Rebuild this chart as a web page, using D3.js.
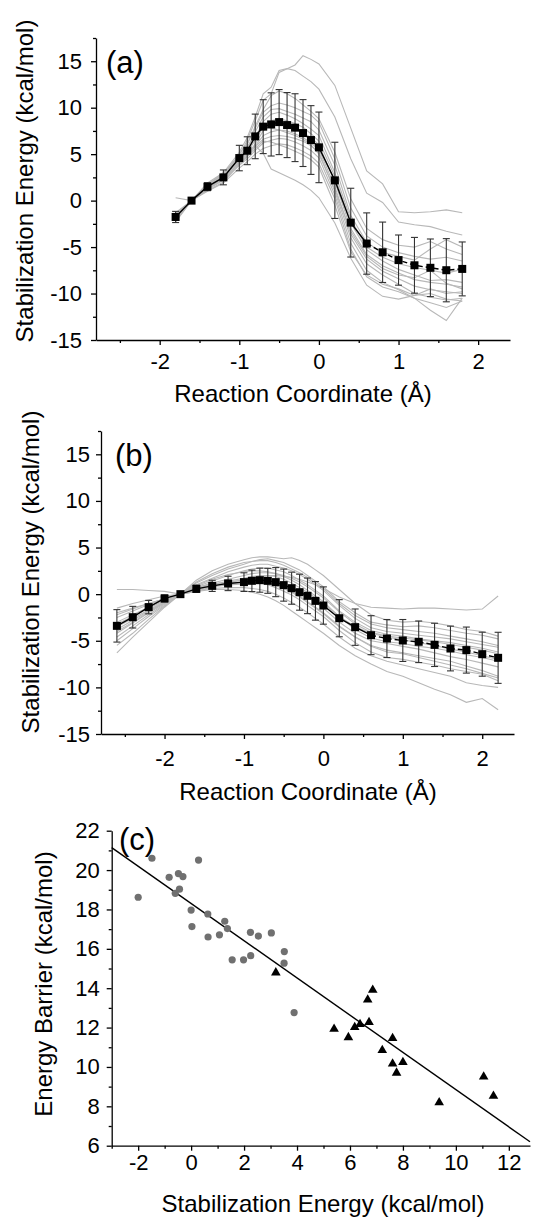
<!DOCTYPE html>
<html><head><meta charset="utf-8">
<script src="https://cdn.jsdelivr.net/npm/d3@7"></script>
<style>body{margin:0;background:#fff}svg text{font-family:"Liberation Sans",Arial,sans-serif;fill:#000}</style>
</head><body><svg id="c" width="536" height="1220"></svg>
<script>
// ---------- Panel (a) data ----------
const xA = [-1.8,-1.6,-1.4,-1.2,-1.0,-0.9,-0.8,-0.7,-0.6,-0.5,-0.4,-0.3,-0.2,-0.1,0,0.2,0.4,0.6,0.8,1.0,1.2,1.4,1.6,1.8];
const meanA = [-1.76,0,1.5,2.5,4.58,5.37,6.91,7.96,8.2,8.45,8.13,7.85,7.27,6.52,5.73,2.18,-2.37,-4.62,-5.56,-6.4,-6.96,-7.23,-7.49,-7.35];
const errA = [0.6,0,0.43,0.8,1.37,1.5,2.4,2.9,3.4,3.5,3.5,3.65,3.6,3.7,3.8,4.1,3.7,3.3,3.25,2.7,3.0,3.1,3.4,2.9];
const curvesA = [
 [-2.2,0,1.6,2.9,4.9,6.5,8.6,10.8,11.5,13.8,14.2,14.6,15.6,15.2,14.7,12.4,7.8,3.2,1.8,-1.2,-1.3,-1.2,-1.0,-1.3],
 [-1.9,0,1.7,3.0,5.2,6.8,9.0,11.5,12.2,14.0,14.2,14.0,13.4,12.8,12.0,9.0,4.5,0.8,-0.2,-2.3,-2.6,-2.8,-3.3,-3.7],
 [-1.5,0,1.3,2.4,4.5,6.0,8.0,9.8,11.3,11.8,11.5,11.0,10.3,9.6,8.8,5.2,0.2,-3.0,-4.2,-4.8,-5.0,-4.4,-5.2,-5.8],
 [-1.8,0,1.5,2.6,4.6,5.6,7.4,9.0,9.8,9.9,9.6,9.3,8.9,8.5,7.6,3.8,-1.6,-4.5,-5.6,-6.0,-6.4,-5.2,-4.2,-5.0],
 [-2.0,0,1.2,2.2,4.2,5.3,6.8,8.5,9.3,9.5,9.2,8.8,8.3,7.7,7.0,3.0,-2.0,-5.0,-6.1,-6.8,-7.2,-7.5,-7.8,-7.4],
 [-1.6,0,1.8,2.7,4.4,5.2,6.5,7.9,8.6,8.8,8.6,8.3,7.9,7.2,6.4,2.6,-2.4,-5.3,-6.5,-7.4,-8.0,-8.6,-8.5,-8.8],
 [-1.4,0,1.4,2.3,4.0,4.9,6.1,7.5,8.1,8.3,8.0,7.7,7.3,6.8,6.0,2.0,-3.0,-5.8,-7.0,-7.8,-8.5,-8.8,-9.0,-9.3],
 [-2.1,0,1.1,2.0,3.9,4.7,5.9,7.0,7.4,7.6,7.5,7.2,6.8,6.2,5.5,1.5,-3.6,-6.3,-7.6,-8.4,-9.2,-9.6,-9.8,-10.0],
 [-1.7,0,1.6,2.5,4.3,5.0,5.8,6.6,6.9,7.0,6.9,6.7,6.4,5.9,5.2,1.0,-4.0,-6.8,-8.0,-9.0,-10.0,-10.4,-10.7,-10.5],
 [-1.3,0,1.3,2.2,3.8,4.5,5.4,6.2,6.5,6.7,6.6,6.3,5.9,5.4,4.6,0.6,-4.6,-7.5,-8.8,-9.6,-10.5,-11.0,-11.5,-10.8],
 [-2.3,0,1.0,1.9,3.5,4.2,5.0,5.6,5.9,6.1,6.0,5.7,5.3,4.8,4.0,0.2,-5.2,-8.2,-9.3,-9.8,-10.5,-11.8,-12.9,-10.5],
 [0.3,0,1.9,3.0,4.7,5.3,5.9,5.1,3.4,3.0,2.6,2.2,1.7,1.1,0.3,-2.4,-6.2,-9.1,-10.3,-10.6,-10.2,-9.5,-10.0,-9.8],
 [-1.6,0,1.5,2.7,5.0,6.2,7.8,9.5,10.2,10.5,10.3,10.0,9.6,9.2,8.4,4.5,-0.8,-3.8,-5.0,-5.6,-6.0,-6.3,-6.1,-6.5],
 [-1.9,0,1.4,2.4,4.1,4.8,5.6,6.4,6.3,6.0,5.7,5.3,4.9,4.4,3.6,-0.5,-5.5,-8.0,-9.0,-9.5,-10.2,-10.0,-10.6,-10.8],
 [-1.5,0,1.7,2.8,4.8,5.8,7.0,8.0,7.8,7.6,7.3,7.0,6.6,6.0,5.0,1.2,-3.3,-6.0,-7.3,-8.0,-8.3,-7.5,-8.9,-9.5]
];
// ---------- Panel (b) data ----------
const xB = [-2.6,-2.4,-2.2,-2.0,-1.8,-1.6,-1.4,-1.2,-1.0,-0.9,-0.8,-0.7,-0.6,-0.5,-0.4,-0.3,-0.2,-0.1,0,0.2,0.4,0.6,0.8,1.0,1.2,1.4,1.6,1.8,2.0,2.2];
const meanB = [-3.4,-2.47,-1.39,-0.46,0,0.57,0.89,1.15,1.29,1.43,1.5,1.43,1.29,0.97,0.64,0.21,-0.18,-0.72,-1.22,-2.58,-3.54,-4.4,-4.76,-4.97,-5.11,-5.44,-5.83,-6.0,-6.44,-6.83];
const errB = [1.74,1.16,0.72,0.38,0,0.39,0.6,0.77,1.0,1.15,1.29,1.34,1.56,1.72,1.72,1.93,1.91,2.07,2.0,1.99,1.95,2.09,2.04,2.25,2.23,2.32,2.4,2.47,2.36,2.74];
const curvesB = [
 [0.5,0.5,0.4,0.3,0,0.3,0.8,1.2,1.6,1.8,1.9,2.0,2.0,1.9,1.8,1.6,1.3,1.0,0.6,-0.3,-1.0,-1.4,-1.5,-1.6,-1.5,-1.5,-1.6,-1.7,-1.6,-0.2],
 [-1.5,-1.0,-0.6,-0.2,0,1.5,2.5,3.2,3.7,3.9,4.0,4.0,3.9,3.8,3.9,3.6,3.2,2.6,2.0,0.5,-1.0,-2.2,-2.8,-3.0,-2.9,-3.1,-3.4,-3.8,-4.0,-4.5],
 [-2.0,-1.5,-1.0,-0.5,0,1.2,2.0,2.7,3.2,3.5,3.7,3.8,3.6,3.4,3.0,2.6,2.0,1.4,0.8,-0.8,-2.0,-3.0,-3.3,-3.5,-3.4,-3.6,-3.9,-4.2,-4.4,-4.8],
 [-3.0,-2.2,-1.4,-0.6,0,0.8,1.4,2.0,2.5,2.7,2.8,2.8,2.6,2.4,2.0,1.5,1.0,0.4,-0.2,-1.8,-3.0,-3.9,-4.3,-4.5,-4.8,-5.0,-5.2,-5.5,-5.8,-6.2],
 [-3.5,-2.6,-1.7,-0.8,0,0.6,1.0,1.4,1.7,1.9,2.0,2.0,1.9,1.6,1.2,0.7,0.2,-0.4,-1.0,-2.4,-3.5,-4.2,-4.6,-4.9,-5.2,-5.5,-5.9,-6.2,-6.6,-7.0],
 [-4.2,-3.1,-2.0,-1.0,0,0.7,1.1,1.3,1.5,1.6,1.6,1.5,1.3,1.0,0.6,0.2,-0.3,-0.9,-1.5,-3.0,-4.2,-5.0,-5.3,-5.6,-5.9,-6.3,-6.7,-7.0,-7.4,-7.8],
 [-5.0,-3.7,-2.4,-1.2,0,0.5,0.8,1.0,1.1,1.2,1.2,1.1,0.9,0.6,0.2,-0.3,-0.9,-1.5,-2.1,-3.5,-4.6,-5.5,-6.0,-6.3,-6.6,-6.9,-7.2,-7.7,-8.2,-8.8],
 [-6.3,-4.6,-3.0,-1.4,0,0.4,0.6,0.7,0.7,0.6,0.5,0.3,0.0,-0.4,-0.9,-1.4,-2.0,-2.6,-3.2,-4.6,-5.8,-6.6,-7.2,-7.6,-8.0,-8.4,-8.8,-9.5,-9.8,-10.0],
 [-5.5,-4.2,-2.7,-1.3,0,0.3,0.5,0.5,0.4,0.2,0.0,-0.3,-0.7,-1.2,-1.8,-2.4,-3.0,-3.6,-4.2,-5.5,-6.6,-7.5,-8.3,-8.8,-9.5,-10.2,-10.8,-11.6,-11.2,-12.4],
 [-2.5,-1.8,-1.1,-0.5,0,1.0,1.7,2.4,2.9,3.1,3.2,3.2,3.0,2.8,2.5,2.1,1.6,1.0,0.4,-1.2,-2.6,-3.6,-4.0,-4.2,-4.4,-4.6,-4.8,-5.1,-5.4,-5.7],
 [-3.8,-2.8,-1.8,-0.9,0,0.9,1.6,2.1,2.4,2.5,2.5,2.4,2.2,1.9,1.5,1.0,0.4,-0.2,-0.8,-2.4,-3.8,-4.7,-5.1,-5.3,-5.6,-5.8,-6.1,-6.5,-6.8,-7.2],
 [-4.6,-3.4,-2.2,-1.1,0,0.6,1.0,1.2,1.3,1.3,1.3,1.2,1.0,0.7,0.3,-0.2,-0.8,-1.4,-2.0,-3.4,-4.6,-5.6,-6.2,-6.4,-6.8,-7.2,-7.6,-8.0,-8.5,-9.0],
 [-2.2,-1.6,-1.0,-0.5,0,1.3,2.2,2.9,3.4,3.5,3.6,3.6,3.4,3.1,2.7,2.3,1.8,1.2,0.6,-1.0,-2.3,-3.2,-3.6,-3.8,-4.0,-4.2,-4.5,-4.8,-5.1,-5.5],
 [-4.0,-3.0,-1.9,-0.9,0,0.5,0.9,1.1,1.3,1.3,1.2,1.0,0.7,0.3,-0.1,-0.6,-1.2,-1.8,-2.4,-3.9,-5.2,-6.2,-6.8,-7.0,-7.3,-7.6,-8.0,-8.3,-8.6,-9.3],
 [-3.2,-2.4,-1.5,-0.7,0,0.7,1.2,1.6,2.0,2.2,2.3,2.3,2.2,2.0,1.7,1.3,0.8,0.2,-0.4,-1.9,-3.2,-4.1,-4.5,-4.7,-4.9,-5.1,-5.4,-5.7,-6.0,-6.4]
];
// ---------- Panel (c) data ----------
const circX = [-2.0,-1.48,-0.83,-0.48,-0.31,-0.60,-0.44,0.28,0.0,0.03,0.63,0.64,1.07,1.27,1.37,1.55,1.98,2.25,2.24,2.54,3.03,3.52,3.51,3.89];
const circY = [18.62,20.6,19.63,19.82,19.67,18.82,19.03,20.51,17.97,17.13,17.77,16.6,16.71,17.4,17.03,15.44,15.44,15.65,16.84,16.65,16.81,15.86,15.27,12.76];
const triX = [3.2,5.40,5.94,6.18,6.38,6.72,6.67,6.86,7.61,7.22,7.61,8.0,7.76,9.37,11.05,11.42];
const triY = [14.79,11.93,11.5,12.02,12.17,12.27,13.41,13.91,11.46,10.85,10.16,10.24,9.7,8.19,9.50,8.52];
const fitX = [-3, 12.8];
const fitY = [21.14, 6.2];

// tick values
const tickA_x = [-2,-1,0,1,2], minA_x = [-2.5,-1.5,-0.5,0.5,1.5];
const tickA_y = [-15,-10,-5,0,5,10,15], minA_y = [-12.5,-7.5,-2.5,2.5,7.5,12.5,17.5];
const tickC_x = [-2,0,2,4,6,8,10,12], minC_x = [-3,-1,1,3,5,7,9,11];
const tickC_y = [6,8,10,12,14,16,18,20,22], minC_y = [7,9,11,13,15,17,19,21];

const svg = d3.select("#c");
const FT = 22, FTITLE = 24, FLAB = 31;

function axes(x, y, xt, xm, yt, ym, padX, padY) {
  const g = svg.append("g");
  const x0 = x.range()[0], y0 = y.range()[0];
  const ax = g.append("g").attr("transform", `translate(0,${y0})`)
    .call(d3.axisBottom(x).tickValues(xt).tickSize(5).tickSizeOuter(0).tickPadding(padX).tickFormat(d => String(d)));
  g.append("g").attr("transform", `translate(0,${y0})`)
    .call(d3.axisBottom(x).tickValues(xm).tickSize(3).tickSizeOuter(0).tickFormat(""))
    .select(".domain").remove();
  const ay = g.append("g").attr("transform", `translate(${x0},0)`)
    .call(d3.axisLeft(y).tickValues(yt).tickSize(5).tickSizeOuter(0).tickPadding(padY).tickFormat(d => String(d)));
  g.append("g").attr("transform", `translate(${x0},0)`)
    .call(d3.axisLeft(y).tickValues(ym).tickSize(3).tickSizeOuter(0).tickFormat(""))
    .select(".domain").remove();
  g.selectAll("path.domain, .tick line").attr("stroke", "#000").attr("stroke-width", 1.3);
  g.selectAll(".tick text").attr("font-size", FT).attr("font-family", '"Liberation Sans",Arial,sans-serif').attr("fill", "#000");
}

function text(x, y, s, size, anchor, rot) {
  const t = svg.append("text").attr("font-size", size).attr("text-anchor", anchor || "middle").text(s);
  if (rot) t.attr("transform", `translate(${x},${y}) rotate(-90)`);
  else t.attr("x", x).attr("y", y);
  return t;
}

function profilePanel(xs, mean, err, curves, xScale, yScale, dashFrom) {
  const line = d3.line().x((d, i) => xScale(xs[i])).y(d => yScale(d));
  const g = svg.append("g");
  curves.forEach(c => g.append("path").attr("d", line(c)).attr("fill", "none")
    .attr("stroke", "#b8b8b8").attr("stroke-width", 1.1));
  // error bars
  xs.forEach((xv, i) => {
    if (err[i] <= 0) return;
    const px = xScale(xv), t = yScale(mean[i] + err[i]), b = yScale(mean[i] - err[i]);
    g.append("line").attr("x1", px).attr("x2", px).attr("y1", t).attr("y2", b).attr("stroke", "#333").attr("stroke-width", 1.1);
    [t, b].forEach(yy => g.append("line").attr("x1", px - 3.5).attr("x2", px + 3.5).attr("y1", yy).attr("y2", yy).attr("stroke", "#333").attr("stroke-width", 1.1));
  });
  // mean line: solid then dashed
  const pts = xs.map((xv, i) => [xv, mean[i]]);
  const ml = d3.line().x(d => xScale(d[0])).y(d => yScale(d[1]));
  const k = xs.findIndex(v => v >= dashFrom - 1e-9);
  g.append("path").attr("d", ml(pts.slice(0, k + 1))).attr("fill", "none").attr("stroke", "#000").attr("stroke-width", 1.4);
  g.append("path").attr("d", ml(pts.slice(k))).attr("fill", "none").attr("stroke", "#000").attr("stroke-width", 1.4).attr("stroke-dasharray", "5,3");
  g.selectAll("rect.m").data(pts).join("rect").attr("class", "m")
    .attr("x", d => xScale(d[0]) - 4).attr("y", d => yScale(d[1]) - 4)
    .attr("width", 8).attr("height", 8).attr("fill", "#000");
}

// ---- Panel (a)
const xa = d3.scaleLinear([-2.8, 2.4], [96, 510]);
const ya = d3.scaleLinear([-15, 17.5], [340, 38]);
profilePanel(xA, meanA, errA, curvesA, xa, ya, 0.6);
axes(xa, ya, tickA_x, minA_x, tickA_y, minA_y, 8, 9);
text(303, 402, "Reaction Coordinate (Å)", FTITLE);
text(33, 181, "Stabilization Energy (kcal/mol)", FTITLE, "middle", true);
text(106, 73, "(a)", FLAB, "start");

// ---- Panel (b)
const xb = d3.scaleLinear([-2.8, 2.4], [101, 514]);
const yb = d3.scaleLinear([-15, 17.5], [734, 431]);
profilePanel(xB, meanB, errB, curvesB, xb, yb, 0.6);
axes(xb, yb, tickA_x, minA_x, tickA_y, minA_y, 11, 6);
text(308, 800, "Reaction Coordinate (Å)", FTITLE);
text(39, 572, "Stabilization Energy (kcal/mol)", FTITLE, "middle", true);
text(115, 466, "(b)", FLAB, "start");

// ---- Panel (c)
const xc = d3.scaleLinear([-3, 12.8], [111.7, 530]);
const yc = d3.scaleLinear([6, 22], [1145.7, 830.7]);
const gc = svg.append("g");
gc.append("path").attr("d", d3.line().x((d, i) => xc(fitX[i])).y(d => yc(d))(fitY))
  .attr("stroke", "#000").attr("stroke-width", 1.4).attr("fill", "none");
gc.selectAll("circle").data(circX).join("circle")
  .attr("cx", d => xc(d)).attr("cy", (d, i) => yc(circY[i])).attr("r", 3.6).attr("fill", "#707070");
const tri = d3.symbol().type(d3.symbolTriangle).size(40);
gc.selectAll("path.t").data(triX).join("path").attr("class", "t")
  .attr("d", tri).attr("transform", (d, i) => `translate(${xc(d)},${yc(triY[i])})`).attr("fill", "#000");
axes(xc, yc, tickC_x, minC_x, tickC_y, minC_y, 4, 7);
text(323, 1212, "Stabilization Energy (kcal/mol)", FTITLE);
text(52, 984, "Energy Barrier (kcal/mol)", FTITLE, "middle", true);
text(119, 850, "(c)", FLAB, "start");
</script></body></html>
